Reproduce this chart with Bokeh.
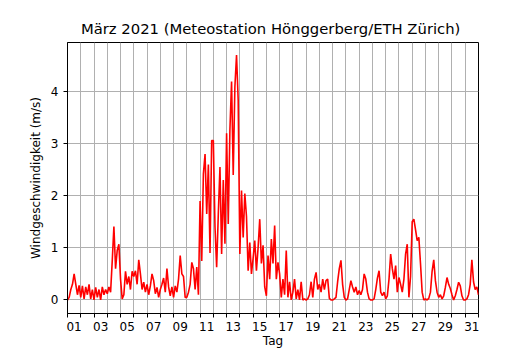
import numpy as np
from bokeh.plotting import figure
from bokeh.models import FixedTicker, Range1d
from bokeh.embed import file_html
from bokeh.resources import INLINE

# Wind speed (m/s), Meteostation Hönggerberg, March 2021.
# Values, 8 readings per day (every 3 hours).
SAMPLES_PER_DAY = 8

wind_days_01_07 = [
    0.0, 0.05, 0.2, 0.3, 0.5, 0.3, 0.1, 0.28,
    0.05, 0.27, 0.02, 0.25, 0.1, 0.3, 0.02, 0.2,
    0.0, 0.24, 0.05, 0.2, 0.0, 0.25, 0.1, 0.2,
    0.12, 0.25, 0.15, 0.75, 1.41, 0.6, 0.95, 1.07,
    0.4, 0.02, 0.1, 0.55, 0.3, 0.45, 0.2, 0.55,
    0.45, 0.56, 0.3, 0.77, 0.5, 0.2, 0.34, 0.15,
    0.3, 0.1, 0.27, 0.5, 0.37, 0.12, 0.24, 0.05,
]
wind_days_08_14 = [
    0.2, 0.3, 0.42, 0.15, 0.6, 0.25, 0.08, 0.25,
    0.05, 0.27, 0.15, 0.4, 0.85, 0.5, 0.45, 0.05,
    0.05, 0.15, 0.3, 0.72, 0.6, 0.2, 0.63, 0.1,
    1.9, 0.75, 2.42, 2.8, 1.65, 2.6, 0.9, 3.06,
    3.06, 1.4, 0.63, 1.65, 2.55, 0.88, 2.3, 1.08,
    3.2, 1.46, 3.26, 4.19, 2.4, 4.09, 4.7, 3.83,
    0.88, 2.1, 1.2, 2.04, 1.6, 0.56, 1.1, 0.5,
]
wind_days_15_21 = [
    0.8, 1.14, 0.56, 1.0, 1.55, 0.7, 1.05, 0.25,
    0.08, 0.85, 0.4, 1.17, 0.7, 1.43, 0.4, 0.72,
    0.5, 0.05, 0.4, 0.1, 0.95, 0.05, 0.35, 0.0,
    0.15, 0.4, 0.02, 0.2, 0.0, 0.35, 0.0, 0.02,
    0.0, 0.02, 0.1, 0.35, 0.05, 0.4, 0.53, 0.2,
    0.3, 0.15, 0.4, 0.2, 0.37, 0.4, 0.03, 0.0,
    0.0, 0.02, 0.05, 0.35, 0.6, 0.76, 0.3, 0.05,
]
wind_days_22_28 = [
    0.0, 0.02, 0.2, 0.37, 0.25, 0.15, 0.25, 0.1,
    0.18, 0.1, 0.2, 0.5, 0.4, 0.15, 0.02, 0.0,
    0.0, 0.02, 0.2, 0.42, 0.56, 0.15, 0.08, 0.15,
    0.02, 0.08, 0.4, 0.88, 0.6, 0.4, 0.66, 0.15,
    0.43, 0.3, 0.15, 0.4, 0.88, 1.07, 0.05, 0.45,
    1.5, 1.55, 1.35, 1.14, 1.2, 0.7, 0.15, 0.0,
    0.02, 0.0, 0.03, 0.15, 0.55, 0.77, 0.37, 0.15,
]
wind_days_29_31 = [
    0.05, 0.1, 0.02, 0.08, 0.24, 0.43, 0.3, 0.22,
    0.1, 0.0, 0.08, 0.2, 0.34, 0.27, 0.08, 0.0,
    0.0, 0.02, 0.1, 0.3, 0.77, 0.35, 0.2, 0.25,
    0.1,
]

day_ticks = list(range(1, 32, 2))
day_labels = ["%02d" % d for d in day_ticks]
speed_ticks = [0, 1, 2, 3, 4]

title_text = "März 2021  (Meteostation Hönggerberg/ETH Zürich)"
x_label = "Tag"
y_label = "Windgeschwindigkeit (m/s)"

speed = (wind_days_01_07 + wind_days_08_14 + wind_days_15_21
         + wind_days_22_28 + wind_days_29_31)
# x axis in days: noon of day d sits at x = d, so midnight boundaries are at d - 0.5
x = np.arange(len(speed)) / SAMPLES_PER_DAY + 0.5

FONT = "DejaVu Sans"

p = figure(width=530, height=350, output_backend="svg", toolbar_location=None,
           x_range=Range1d(0.5, 31.5), y_range=Range1d(-0.26, 4.94),
           min_border_left=67, min_border_right=52, min_border_top=42,
           min_border_bottom=37)

p.line(x, speed, line_color="#ff0000", line_width=1.6)

p.title.text = title_text
p.title.align = "center"
p.title.text_font = FONT
p.title.text_font_size = "14.8px"
p.title.text_font_style = "normal"
p.title.text_color = "black"
p.title.standoff = 11

p.outline_line_color = "black"
p.outline_line_alpha = 1.0
p.outline_line_width = 1

xa = p.xaxis[0]
xa.ticker = FixedTicker(ticks=day_ticks, minor_ticks=[d + 0.5 for d in range(0, 32)])
xa.major_label_overrides = {d: lab for d, lab in zip(day_ticks, day_labels)}
xa.major_tick_out = 0
xa.major_tick_in = 0
xa.minor_tick_out = 4
xa.minor_tick_in = 0
xa.minor_tick_line_color = "black"
xa.major_label_standoff = 4
xa.axis_label = x_label
xa.axis_label_standoff = 0

ya = p.yaxis[0]
ya.ticker = FixedTicker(ticks=speed_ticks, minor_ticks=[])
ya.major_tick_out = 4
ya.major_tick_in = 0
ya.major_label_standoff = 5
ya.axis_label = y_label
ya.axis_label_standoff = 5

for ax in (xa, ya):
    ax.axis_line_color = "black"
    ax.major_tick_line_color = "black"
    ax.major_label_text_font = FONT
    ax.major_label_text_font_size = "12px"
    ax.major_label_text_color = "black"
    ax.axis_label_text_font = FONT
    ax.axis_label_text_font_size = "12px"
    ax.axis_label_text_font_style = "normal"
    ax.axis_label_text_color = "black"

p.xgrid.ticker = FixedTicker(ticks=[d + 0.5 for d in range(1, 31)])
p.ygrid.ticker = FixedTicker(ticks=speed_ticks)
for g in (p.xgrid, p.ygrid):
    g.grid_line_color = "#b0b0b0"
    g.grid_line_width = 1
    g.grid_line_alpha = 1.0

open("out.html", "w").write(file_html(p, INLINE))
